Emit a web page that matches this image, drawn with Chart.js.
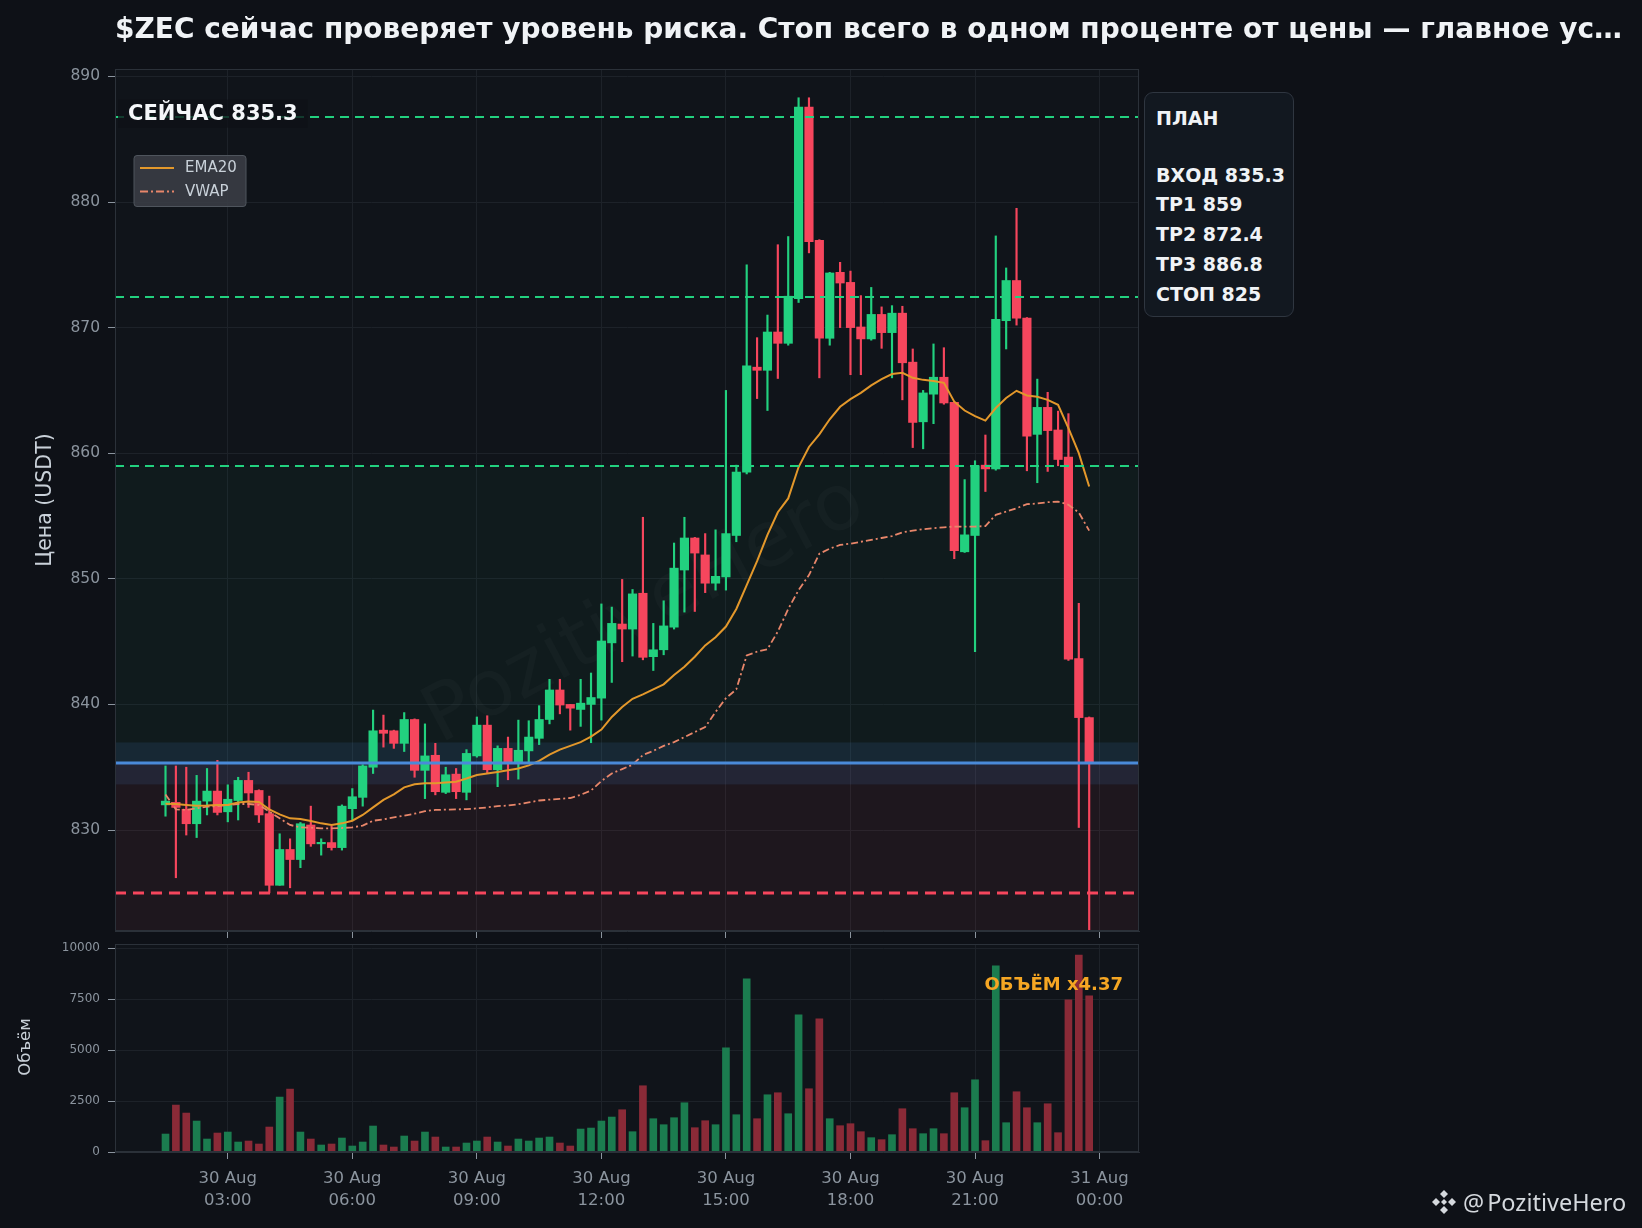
<!DOCTYPE html>
<html lang="ru">
<head>
<meta charset="utf-8">
<title>$ZEC</title>
<script src="https://cdn.jsdelivr.net/npm/chart.js@4.4.1/dist/chart.umd.min.js"></script>
<style>
  html, body { margin: 0; padding: 0; background: #0e1117; }
  #page { position: relative; width: 1642px; height: 1228px; overflow: hidden; background: #0e1117; font-family: "DejaVu Sans", sans-serif; }
  #priceChart { position: absolute; left: 0; top: 0; z-index: 1; }
  #volumeChart { position: absolute; left: 0; top: 920px; z-index: 1; }
  #title { position: absolute; z-index: 2; left: 115px; top: 13px; line-height: 32px; font-size: 28px; font-weight: bold; color: #f0f3f6; white-space: nowrap; }
  #plan { position: absolute; z-index: 2; left: 1144px; top: 92px; width: 150px; height: 225px; box-sizing: border-box;
          border: 1.5px solid #2f3640; border-radius: 9px; background: #121820;
          padding: 11px 0 0 11px; color: #f0f3f6; font-weight: bold; font-size: 19px; line-height: 29.8px; white-space: pre; }
  #plan .gap { height: 26.8px; }
  #brand { position: absolute; z-index: 2; left: 1431px; top: 1188px; height: 28px; display: flex; align-items: center; color: #d5d9de;
           font-family: "Noto Sans", "Open Sans", sans-serif; font-size: 23.5px; }
  #brand svg { margin-right: 6px; }
</style>
</head>
<body>
<div id="page">
  <div id="title">$ZEC сейчас проверяет уровень риска. Стоп всего в одном проценте от цены — главное ус…</div>
  <canvas id="priceChart" width="1642" height="949"></canvas>
  <canvas id="volumeChart" width="1642" height="308"></canvas>
  <div id="plan"><div>ПЛАН</div><div class="gap"></div><div>ВХОД 835.3</div><div>TP1 859</div><div>TP2 872.4</div><div>TP3 886.8</div><div>СТОП 825</div></div>
  <div id="brand">
    <svg width="26" height="26" viewBox="0 0 26 26">
      <g fill="#d5d9de">
        <path d="M13 1 L17 5 L13 9 L9 5 Z"/>
        <path d="M13 17 L17 21 L13 25 L9 21 Z"/>
        <path d="M5 9 L9 13 L5 17 L1 13 Z"/>
        <path d="M21 9 L25 13 L21 17 L17 13 Z"/>
        <path d="M13 10 L16 13 L13 16 L10 13 Z"/>
      </g>
    </svg>
    <span>@</span><span style="margin-left:3px">PozitiveHero</span>
  </div>
</div>

<script>
// 15m candles, 30 Aug
const candleTimes = ['01:30','01:45','02:00','02:15','02:30','02:45','03:00','03:15','03:30','03:45',
  '04:00','04:15','04:30','04:45','05:00','05:15','05:30','05:45','06:00','06:15',
  '06:30','06:45','07:00','07:15','07:30','07:45','08:00','08:15','08:30','08:45',
  '09:00','09:15','09:30','09:45','10:00','10:15','10:30','10:45','11:00','11:15',
  '11:30','11:45','12:00','12:15','12:30','12:45','13:00','13:15','13:30','13:45',
  '14:00','14:15','14:30','14:45','15:00','15:15','15:30','15:45','16:00','16:15',
  '16:30','16:45','17:00','17:15','17:30','17:45','18:00','18:15','18:30','18:45',
  '19:00','19:15','19:30','19:45','20:00','20:15','20:30','20:45','21:00','21:15',
  '21:30','21:45','22:00','22:15','22:30','22:45','23:00','23:15','23:30','23:45'];

const opens = [832.0,832.2,831.65,830.5,832.3,833.1,831.45,832.35,833.95,833.15,
  831.3,825.6,828.45,827.65,830.4,828.9,829.0,828.6,831.7,832.6,
  835.0,837.95,837.9,836.9,838.8,834.75,835.95,833.0,834.45,833.0,
  835.9,838.35,834.8,836.5,835.3,836.3,837.3,838.8,841.15,840.0,
  839.6,840.0,840.5,844.9,846.4,846.0,848.85,843.8,844.35,846.15,
  850.7,853.25,851.9,849.65,850.15,853.45,858.5,866.85,866.6,869.65,
  868.75,872.3,887.55,876.95,869.15,874.4,873.6,870.05,869.1,871.05,
  869.6,871.15,867.25,862.5,864.7,866.05,864.05,852.15,853.45,859.05,
  858.75,870.55,873.75,870.75,861.5,863.65,861.85,859.7,843.65,838.95];

const highs = [835.1,835.1,835.0,834.35,834.9,835.55,833.6,834.2,834.6,833.2,
  832.7,829.7,829.3,830.6,831.9,829.3,830.3,832.0,833.3,835.2,
  839.55,839.15,837.95,839.35,838.85,838.45,836.9,835.0,834.9,836.4,
  839.0,839.1,836.7,837.4,838.75,838.7,839.9,842.0,842.0,840.0,
  842.0,842.5,848.0,847.75,849.95,849.15,854.9,846.45,848.25,852.85,
  854.9,853.3,853.6,853.9,865.0,859.05,875.0,869.2,871.0,876.6,
  877.25,888.3,888.3,877.0,874.4,875.2,874.5,872.55,873.2,871.65,
  871.75,871.7,868.3,865.0,868.7,868.4,864.1,857.9,859.4,861.45,
  877.3,874.75,879.5,870.8,865.9,864.85,863.35,863.15,848.05,839.0];

const lows = [831.1,826.2,829.6,829.4,831.2,831.2,830.65,830.8,831.8,830.6,
  825.0,825.6,825.4,827.0,828.7,828.0,828.4,828.4,830.8,831.9,
  834.5,836.6,836.5,836.25,834.2,832.5,832.8,832.9,832.5,832.4,
  835.8,834.5,833.45,834.0,834.05,835.3,836.8,838.45,839.25,837.95,
  838.25,836.95,838.75,841.75,843.4,843.85,843.55,842.7,843.95,846.0,
  847.35,847.4,848.9,849.1,849.1,852.95,858.35,864.35,863.4,865.95,
  868.6,872.0,875.95,866.0,868.6,870.0,866.25,866.25,869.0,868.35,
  866.0,864.25,860.45,860.35,862.35,863.9,851.6,852.1,844.2,856.95,
  858.65,868.3,870.2,858.6,857.65,858.55,859.0,843.5,830.2,821.0];

const closes = [832.3,831.8,830.5,832.3,833.1,831.4,832.45,833.95,832.95,831.2,
  825.6,828.45,827.65,830.5,828.9,829.0,828.6,831.9,832.65,835.1,
  837.9,837.7,836.9,838.8,834.75,835.9,833.05,834.4,833.05,836.1,
  838.35,834.8,836.5,835.3,836.35,837.4,838.8,841.15,839.95,839.7,
  840.1,840.55,845.05,846.45,846.0,848.8,843.75,844.35,846.25,850.85,
  853.25,852.05,849.65,850.2,853.6,858.5,866.95,866.6,869.65,868.75,
  872.5,887.55,876.85,869.15,874.35,873.55,870.0,869.1,871.05,869.6,
  871.15,867.2,862.45,864.8,866.05,864.0,852.25,853.5,859.0,858.75,
  870.65,873.75,870.75,861.35,863.65,861.8,859.5,843.6,838.95,835.3];

const volumes = [882,2304,1912,1520,637,931,980,490,539,392,
  1226,2696,3088,980,637,343,392,686,294,490,
  1275,343,245,784,539,980,735,245,245,441,
  539,735,490,294,637,539,686,735,441,294,
  1127,1176,1520,1716,2075,997,3252,1634,1340,1683,
  2418,1193,1536,1340,5114,1830,8497,1634,2810,2909,
  1879,6732,3105,6536,1634,1291,1389,997,703,605,
  850,2124,1144,899,1144,899,2909,2173,3546,556,
  9134,1438,2958,2173,1438,2369,948,7467,9673,7663];

const ema20 = [832.1,832.07,832.0,831.94,831.96,832.0,832.0,832.2,832.28,832.23,
  831.65,831.25,830.93,830.88,830.72,830.53,830.4,830.53,830.74,831.2,
  831.8,832.4,832.84,833.4,833.65,833.72,833.72,833.78,833.85,834.1,
  834.38,834.5,834.62,834.75,834.9,835.15,835.5,836.0,836.4,836.7,
  837.0,837.43,838.0,839.0,839.8,840.45,840.8,841.2,841.6,842.35,
  843.0,843.8,844.7,845.35,846.2,847.6,849.5,851.4,853.5,855.3,
  856.4,858.9,860.5,861.5,862.7,863.7,864.3,864.8,865.4,865.9,
  866.3,866.4,866.0,865.84,865.75,865.6,864.1,863.4,862.95,862.6,
  863.6,864.4,864.97,864.6,864.5,864.25,863.85,862.0,860.0,857.35];

const vwap = [832.83,831.65,831.6,831.73,831.86,831.9,832.0,832.07,832.07,832.0,
  831.46,830.93,830.4,830.21,830.19,830.13,830.13,830.16,830.21,830.35,
  830.74,830.85,831.0,831.15,831.3,831.5,831.6,831.62,831.64,831.67,
  831.72,831.8,831.9,831.95,832.05,832.2,832.35,832.42,832.48,832.55,
  832.8,833.15,833.9,834.5,834.85,835.2,835.97,836.3,836.7,837.0,
  837.4,837.8,838.2,839.4,840.5,841.2,843.9,844.2,844.4,845.8,
  847.6,849.1,850.3,852.0,852.4,852.7,852.8,852.95,853.1,853.25,
  853.4,853.7,853.84,853.95,854.03,854.1,854.16,854.16,854.16,854.2,
  855.09,855.35,855.62,855.94,856.0,856.1,856.15,855.9,855.28,853.84];

const priceTicks = [830, 840, 850, 860, 870, 880, 890];
const volumeTicks = [0, 2500, 5000, 7500, 10000];
const xTickTimes = ['03:00','06:00','09:00','12:00','15:00','18:00','21:00','24:00'];
const xTickLabels = [['30 Aug','03:00'],['30 Aug','06:00'],['30 Aug','09:00'],['30 Aug','12:00'],
  ['30 Aug','15:00'],['30 Aug','18:00'],['30 Aug','21:00'],['31 Aug','00:00']];

const entryLevel = 835.3;
const entryBand = [833.63, 836.97];
const stopLevel = 825;
const targetLevels = [859, 872.4, 886.8];
const nowLabel = 'СЕЙЧАС 835.3';
const volumeLabel = 'ОБЪЁМ x4.37';

// colours
const upColor = '#22d17f';
const downColor = '#f6465d';
const upVol = '#1b7c4f';
const downVol = '#8a2a37';
const gridColor = '#1d2229';
const spineColor = '#2b3139';
const tickColor = '#8b949e';
const plotBg = '#10141a';

Chart.defaults.font.family = '"DejaVu Sans", sans-serif';
Chart.defaults.color = tickColor;

function toMinutes(s) {
  var p = s.split(':');
  return Number(p[0]) * 60 + Number(p[1]);
}

var xs = candleTimes.map(toMinutes);
var xTickValues = xTickTimes.map(toMinutes);
var isUp = closes.map(function (c, i) { return c >= opens[i]; });

var xMin = toMinutes('00:17');
var xMax = toMinutes('24:57');

function xScaleOptions(heightPx, showLabels) {
  return {
    type: 'linear',
    min: xMin,
    max: xMax,
    offset: false,
    afterBuildTicks: function (s) { s.ticks = xTickValues.map(function (v) { return { value: v }; }); },
    afterFit: function (s) { s.height = heightPx; },
    grid: { offset: false, color: gridColor, tickColor: tickColor, tickLength: 7, drawTicks: true, lineWidth: 1 },
    border: { color: spineColor },
    ticks: {
      autoSkip: false,
      maxRotation: 0,
      padding: 9,
      color: tickColor,
      font: { size: 16.5, lineHeight: 1.33 },
      callback: function (v) {
        if (!showLabels) return '';
        var k = xTickValues.indexOf(v);
        return k >= 0 ? xTickLabels[k] : '';
      }
    }
  };
}

function drawFrame(chart) {
  var a = chart.chartArea, ctx = chart.ctx;
  ctx.save();
  ctx.strokeStyle = spineColor;
  ctx.lineWidth = 1;
  ctx.strokeRect(a.left + 0.5, a.top + 0.5, a.width - 1, a.height - 1);
  ctx.restore();
}

function fillBg(chart) {
  var a = chart.chartArea, ctx = chart.ctx;
  ctx.save();
  ctx.fillStyle = plotBg;
  ctx.fillRect(a.left, a.top, a.width, a.height);
  ctx.restore();
}

var pricePlugin = {
  id: 'pricePlugin',
  beforeDraw: function (chart) {
    fillBg(chart);
  },
  beforeDatasetsDraw: function (chart) {
    var ctx = chart.ctx, a = chart.chartArea, y = chart.scales.y;
    ctx.save();
    ctx.beginPath();
    ctx.rect(a.left, a.top, a.width, a.height);
    ctx.clip();
    function band(lo, hi, color) {
      var y1 = y.getPixelForValue(hi), y2 = y.getPixelForValue(lo);
      ctx.fillStyle = color;
      ctx.fillRect(a.left, y1, a.width, y2 - y1);
    }
    band(entryLevel, targetLevels[0], 'rgba(34,209,127,0.04)');
    band(y.min, entryLevel, 'rgba(246,70,93,0.065)');
    band(entryBand[0], entryBand[1], 'rgba(77,142,224,0.12)');

    // watermark
    ctx.translate(645, 612);
    ctx.rotate(-28 * Math.PI / 180);
    ctx.font = '78px "DejaVu Sans"';
    ctx.fillStyle = 'rgba(255,255,255,0.025)';
    ctx.textAlign = 'center';
    ctx.textBaseline = 'middle';
    ctx.fillText('PozitiveHero', 0, 0);
    ctx.restore();

    // y label
    ctx.save();
    ctx.translate(46, 500);
    ctx.rotate(-Math.PI / 2);
    ctx.font = '20.5px "DejaVu Sans"';
    ctx.fillStyle = '#c9d1d9';
    ctx.textAlign = 'center';
    ctx.textBaseline = 'middle';
    ctx.fillText('Цена (USDT)', 0, 0);
    ctx.restore();
  },
  afterDatasetsDraw: function (chart) {
    var ctx = chart.ctx, a = chart.chartArea, y = chart.scales.y;
    ctx.save();
    ctx.beginPath();
    ctx.rect(a.left, a.top, a.width, a.height);
    ctx.clip();

    ctx.strokeStyle = upColor;
    ctx.lineWidth = 2;
    ctx.setLineDash([9, 6]);
    targetLevels.forEach(function (lv) {
      var py = Math.round(y.getPixelForValue(lv));
      ctx.beginPath();
      ctx.moveTo(a.left, py);
      ctx.lineTo(a.right, py);
      ctx.stroke();
    });

    ctx.strokeStyle = downColor;
    ctx.lineWidth = 3;
    ctx.setLineDash([11, 7]);
    var sy = Math.round(y.getPixelForValue(stopLevel));
    ctx.beginPath();
    ctx.moveTo(a.left, sy);
    ctx.lineTo(a.right, sy);
    ctx.stroke();

    ctx.setLineDash([]);
    ctx.strokeStyle = '#4a8ad9';
    ctx.lineWidth = 3;
    var ey = Math.round(y.getPixelForValue(entryLevel));
    ctx.beginPath();
    ctx.moveTo(a.left, ey);
    ctx.lineTo(a.right, ey);
    ctx.stroke();

    // "now" label sitting on the top target line
    var ny = y.getPixelForValue(targetLevels[2]);
    ctx.font = 'bold 21px "DejaVu Sans"';
    var w = ctx.measureText(nowLabel).width;
    ctx.fillStyle = 'rgba(14,17,23,0.78)';
    ctx.fillRect(a.left + 3, ny - 17, w + 20, 28);
    ctx.fillStyle = '#f5f7fa';
    ctx.textBaseline = 'alphabetic';
    ctx.fillText(nowLabel, a.left + 13, ny + 3);

    // legend
    var lx = a.left + 19, ly = 155.5;
    ctx.fillStyle = 'rgba(58,62,70,0.88)';
    ctx.strokeStyle = '#4f555d';
    ctx.lineWidth = 1;
    ctx.beginPath();
    ctx.roundRect(lx, ly, 112, 51, 3);
    ctx.fill();
    ctx.stroke();
    ctx.lineWidth = 2;
    ctx.strokeStyle = '#e3982b';
    ctx.beginPath();
    ctx.moveTo(lx + 6, ly + 12.5);
    ctx.lineTo(lx + 40, ly + 12.5);
    ctx.stroke();
    ctx.strokeStyle = '#e8866a';
    ctx.setLineDash([8, 3, 2, 3]);
    ctx.beginPath();
    ctx.moveTo(lx + 6, ly + 36);
    ctx.lineTo(lx + 40, ly + 36);
    ctx.stroke();
    ctx.setLineDash([]);
    ctx.fillStyle = '#c9d1d9';
    ctx.font = '15px "DejaVu Sans"';
    ctx.textBaseline = 'middle';
    ctx.fillText('EMA20', lx + 51, ly + 13);
    ctx.fillText('VWAP', lx + 51, ly + 36.5);
    ctx.restore();

    drawFrame(chart);
  }
};

var volumePlugin = {
  id: 'volumePlugin',
  beforeDraw: function (chart) {
    fillBg(chart);
  },
  afterDatasetsDraw: function (chart) {
    var ctx = chart.ctx, a = chart.chartArea;
    ctx.save();
    ctx.font = 'bold 18px "DejaVu Sans"';
    ctx.fillStyle = '#f5a623';
    ctx.textAlign = 'right';
    ctx.textBaseline = 'alphabetic';
    ctx.fillText(volumeLabel, a.right - 16, a.top + 46);

    ctx.translate(26, 127);
    ctx.rotate(-Math.PI / 2);
    ctx.font = '16.5px "DejaVu Sans"';
    ctx.fillStyle = '#c9d1d9';
    ctx.textAlign = 'center';
    ctx.textBaseline = 'middle';
    ctx.fillText('Объём', 0, 0);
    ctx.restore();
    drawFrame(chart);
  }
};

new Chart(document.getElementById('priceChart'), {
  type: 'bar',
  data: {
    datasets: [
      {
        type: 'line', label: 'EMA20', order: 0,
        data: xs.map(function (x, i) { return { x: x, y: ema20[i] }; }),
        borderColor: '#e3982b', borderWidth: 2, pointRadius: 0, tension: 0
      },
      {
        type: 'line', label: 'VWAP', order: 0,
        data: xs.map(function (x, i) { return { x: x, y: vwap[i] }; }),
        borderColor: '#e8866a', borderWidth: 1.8, borderDash: [7, 3, 2, 3], pointRadius: 0, tension: 0
      },
      {
        label: 'body', order: 1, grouped: false,
        data: xs.map(function (x, i) { return { x: x, y: [opens[i], closes[i]] }; }),
        backgroundColor: isUp.map(function (u) { return u ? upColor : downColor; }),
        barThickness: 8.5, minBarLength: 1.5, borderWidth: 0
      },
      {
        label: 'wick', order: 2, grouped: false,
        data: xs.map(function (x, i) { return { x: x, y: [lows[i], highs[i]] }; }),
        backgroundColor: isUp.map(function (u) { return u ? upColor : downColor; }),
        barThickness: 1.5, borderWidth: 0
      }
    ]
  },
  options: {
    responsive: false,
    animation: false,
    devicePixelRatio: 1,
    layout: { padding: { left: 0, top: 69, right: 503, bottom: 0 } },
    plugins: { legend: { display: false }, tooltip: { enabled: false } },
    scales: {
      x: xScaleOptions(18, false),
      y: {
        min: 821.96,
        max: 890.59,
        afterBuildTicks: function (s) { s.ticks = priceTicks.map(function (v) { return { value: v }; }); },
        afterFit: function (s) { s.width = 115; },
        grid: { color: gridColor, tickColor: tickColor, tickLength: 7 },
        border: { color: spineColor },
        ticks: { color: tickColor, padding: 8, font: { size: 15.5 }, callback: function (v) { return String(v); } }
      }
    }
  },
  plugins: [pricePlugin]
});

new Chart(document.getElementById('volumeChart'), {
  type: 'bar',
  data: {
    datasets: [{
      label: 'volume',
      data: xs.map(function (x, i) { return { x: x, y: volumes[i] }; }),
      backgroundColor: isUp.map(function (u) { return u ? upVol : downVol; }),
      barThickness: 7, borderWidth: 0
    }]
  },
  options: {
    responsive: false,
    animation: false,
    devicePixelRatio: 1,
    layout: { padding: { left: 0, top: 24, right: 503, bottom: 0 } },
    plugins: { legend: { display: false }, tooltip: { enabled: false } },
    scales: {
      x: xScaleOptions(76, true),
      y: {
        min: 0,
        max: 10211,
        afterBuildTicks: function (s) { s.ticks = volumeTicks.map(function (v) { return { value: v }; }); },
        afterFit: function (s) { s.width = 115; },
        grid: { color: gridColor, tickColor: tickColor, tickLength: 7 },
        border: { color: spineColor },
        ticks: { color: tickColor, padding: 8, font: { size: 12 }, callback: function (v) { return String(v); } }
      }
    }
  },
  plugins: [volumePlugin]
});
</script>
</body>
</html>
